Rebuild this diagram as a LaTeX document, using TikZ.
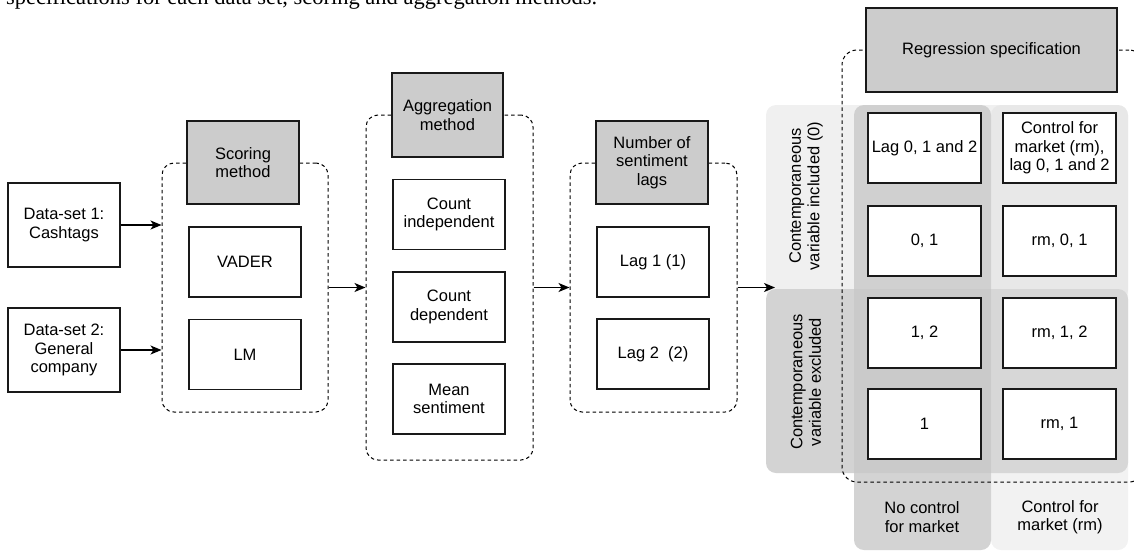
\documentclass[tikz,border=0pt]{standalone}
\usepackage{fontspec}
\setmainfont{Liberation Sans}
\newfontfamily\serifont{Liberation Serif}
\usetikzlibrary{arrows.meta}
\definecolor{headgray}{RGB}{204,204,204}
\definecolor{rowinc}{RGB}{240,240,240}
\definecolor{rowexc}{RGB}{211,211,211}
\definecolor{colno}{RGB}{200,200,200}
\definecolor{colctl}{RGB}{222,222,222}
\begin{document}
\begin{tikzpicture}[x=1pt,y=-1pt,
  txt/.style={font=\fontsize{16.5}{18.5}\selectfont},
  box/.style={txt, draw=black!90, line width=1.3pt, fill=white, minimum width=112pt, minimum height=70pt, align=center, inner sep=1pt},
  head/.style={box, fill=headgray, minimum height=84pt},
  cont/.style={draw=black, line width=1pt, dash pattern=on 3.5pt off 3pt, rounded corners=12pt, inner sep=0pt},
  lbl/.style={txt, align=center, inner sep=0pt},
  arr/.style={-{Stealth[length=11pt,width=9pt,inset=3pt]}, line width=1.3pt}]
\useasboundingbox (0,0) rectangle (1134,552);
\clip (0,0) rectangle (1134,552);
% caption fragment
\node[anchor=base west, inner sep=0pt, font=\serifont\fontsize{22.5}{24}\selectfont] (cap) at (6,4.5) {specifications for each data set, scoring and aggregation methods.};
% regions
\fill[rowinc, rounded corners=10pt] (766,105) rectangle (1128,300);
\fill[rowexc, rounded corners=10pt] (766,289) rectangle (1128,473);
\fill[colno, fill opacity=0.8, rounded corners=10pt] (854,105) rectangle (991,550);
\fill[colctl, fill opacity=0.4, rounded corners=10pt] (991,105) rectangle (1128,550);
% containers
\node[cont, minimum width=166pt, minimum height=249pt] (scon) at (245,287.5) {};
\node[cont, minimum width=167pt, minimum height=345pt] (acon) at (449.5,287.5) {};
\node[cont, minimum width=167pt, minimum height=249pt] (lcon) at (653.5,287.5) {};
\node[cont, rounded corners=15pt, minimum width=302pt, minimum height=432pt] (rcon) at (993,266) {};
% inputs
\node[box, minimum height=84pt] (ds1) at (64,225) {Data-set 1:\\Cashtags};
\node[box, minimum height=84pt] (ds2) at (64,350) {Data-set 2:\\General\\company};
% scoring
\node[head, minimum height=83pt] (shead) at (243,162.5) {Scoring\\method};
\node[box] (vader) at (245,262) {VADER};
\node[box] (lm) at (245,354.5) {LM};
% aggregation
\node[head, minimum width=111pt] (ahead) at (447.5,115) {Aggregation\\method};
\node[box] (cind) at (449,214.5) {Count\\independent};
\node[box] (cdep) at (449,307) {Count\\dependent};
\node[box] (mean) at (449,399) {Mean\\sentiment};
% lags
\node[head, minimum height=83pt] (lhead) at (652,162.5) {Number of\\sentiment\\lags};
\node[box] (lag1) at (653,262) {Lag 1 (1)};
\node[box] (lag2) at (653,354) {Lag 2~~(2)};
% regression
\node[head, minimum width=251pt] (rhead) at (991.5,50) {Regression specification};
\node[box, minimum width=113pt] (c11) at (924.5,148) {Lag 0, 1 and 2};
\node[box, minimum width=113pt] (c12) at (1059.5,148) {Control for\\market (rm),\\lag 0, 1 and 2};
\node[box, minimum width=113pt] (c21) at (924.5,241) {0, 1};
\node[box, minimum width=113pt] (c22) at (1059.5,241) {rm, 0, 1};
\node[box, minimum width=113pt] (c31) at (924.5,333) {1, 2};
\node[box, minimum width=113pt] (c32) at (1059.5,333) {rm, 1, 2};
\node[box, minimum width=113pt] (c41) at (924.5,424) {1};
\node[box, minimum width=113pt] (c42) at (1059.5,424) {rm, 1};
% region labels
\node[lbl, rotate=90] (linc) at (806,196) {Contemporaneous\\variable included (0)};
\node[lbl, rotate=90] (lexc) at (806,382) {Contemporaneous\\variable excluded};
\node[lbl] (lno) at (922,517) {No control\\for market};
\node[lbl] (lctl) at (1060,517) {Control for\\market (rm)};
% arrows
\draw[arr] (ds1.east) -- (ds1.east -| scon.west);
\draw[arr] (ds2.east) -- (ds2.east -| scon.west);
\draw[arr] (scon.east) -- (acon.west);
\draw[arr] (acon.east) -- (lcon.west);
\coordinate (rin) at (775,287.5);
\draw[arr] (lcon.east) -- (rin);
\end{tikzpicture}
\end{document}
